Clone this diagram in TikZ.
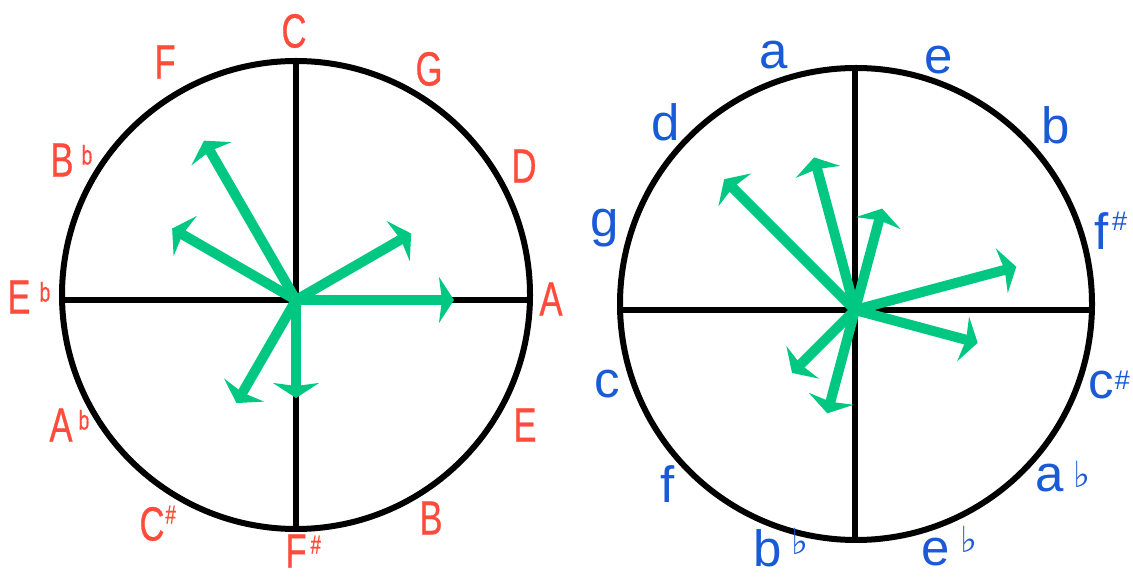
\documentclass[tikz,border=0pt]{standalone}
\usepackage{fontspec}
\setmainfont{Liberation Sans}
\newfontfamily\condfont[FakeStretch=0.72,FakeBold=0.6]{Liberation Sans}
\newfontfamily\symfont{DejaVu Sans}
\usetikzlibrary{arrows.meta,calc}
\definecolor{notered}{RGB}{255,75,60}
\definecolor{keyblue}{RGB}{25,90,215}
\definecolor{vecgreen}{RGB}{0,200,130}
\newcommand\mjflat[1]{\rlap{\hspace{#1}\smash{\raisebox{12pt}{\fontsize{27}{27}\selectfont b}}}}
\newcommand\mjsharp[2]{\rlap{\hspace{#1}\smash{\raisebox{#2}{\fontsize{26}{26}\selectfont\#}}}}
\newcommand\mnflat[2]{\rlap{\hspace{#1}\smash{\raisebox{#2}{\symfont\fontsize{36}{36}\selectfont ♭}}}}
\newcommand\mnsharp[2]{\rlap{\hspace{#1}\smash{\raisebox{#2}{\fontsize{27}{27}\selectfont\#}}}}
\tikzset{
  rim/.style={line width=6pt, draw=black},
  axis/.style={line width=5.5pt, draw=black},
  vec/.style={line width=10pt, draw=vecgreen, -{Stealth[length=15pt,width=46pt,inset=3pt]}},
  maj/.style={text=notered, font=\condfont\fontsize{48}{48}\selectfont, inner sep=0pt},
  mnr/.style={text=keyblue, font=\fontsize{51}{51}\selectfont, inner sep=0pt},
}
\begin{document}
\begin{tikzpicture}[x=1pt,y=1pt]
\useasboundingbox (0,0) rectangle (1133,576);
% ---------- left circle (major) ----------
\coordinate (Lc) at (296,281);
\coordinate (L) at (296,276);
\coordinate (Ln) at (296,515);
\coordinate (Ls) at (296,47);
\coordinate (Lw) at (62,276);
\coordinate (Le) at (530,276);
\draw[rim] (Lc) circle (234);
\draw[axis] (Ln) -- (Ls);
\draw[axis] (Lw) -- (Le);
\coordinate (LvA) at ($(L)+(0:158)$);
\coordinate (LvD) at ($(L)+(30:133)$);
\coordinate (LvF) at ($(L)+(120:184)$);
\coordinate (LvBb) at ($(L)+(150:143)$);
\coordinate (LvFs) at ($(L)+(-90:98)$);
\coordinate (LvCs) at ($(L)+(-120:119)$);
\foreach \t in {LvA,LvD,LvF,LvBb,LvFs,LvCs} \draw[vec] (L) -- (\t);
\node[maj] (lC)  at (294,545) {C};
\node[maj] (lG)  at (429,507) {G};
\node[maj] (lD)  at (524,410) {D};
\node[maj] (lA)  at (551,277) {A};
\node[maj] (lE)  at (525,151) {E};
\node[maj] (lB)  at (431,58)  {B};
\node[maj] (lFs) at (296,25)  {F\mjsharp{4pt}{14pt}};
\node[maj] (lCs) at (152,52)  {C\mjsharp{1pt}{17pt}};
\node[maj] (lAb) at (61,151)  {A\mjflat{6pt}};
\node[maj] (lEb) at (19,279)  {E\mjflat{9pt}};
\node[maj] (lBb) at (62,416)  {B\mjflat{8pt}};
\node[maj] (lF)  at (165,514) {F};
% ---------- right circle (minor) ----------
\coordinate (Rc) at (856,272);
\coordinate (R) at (855,266);
\coordinate (Rn) at (855,507);
\coordinate (Rs) at (855,36);
\coordinate (Rw) at (621,266);
\coordinate (Re) at (1092,266);
\draw[rim] (Rc) circle (236);
\draw[axis] (Rn) -- (Rs);
\draw[axis] (Rw) -- (Re);
\coordinate (Rvd) at ($(R)+(135:185)$);
\coordinate (Rva) at ($(R)+(105:158)$);
\coordinate (Rve) at ($(R)+(75:105)$);
\coordinate (Rvfs) at ($(R)+(15:167)$);
\coordinate (Rvcs) at ($(R)+(-15:127)$);
\coordinate (Rvf) at ($(R)+(-135:89)$);
\coordinate (Rvbb) at ($(R)+(-105:107)$);
\foreach \t in {Rvd,Rva,Rve,Rvfs,Rvcs,Rvf,Rvbb} \draw[vec] (R) -- (\t);
\node[mnr] (ra)  at (774,521)  {a};
\node[mnr] (re)  at (939,516)  {e};
\node[mnr] (rb)  at (1056,451) {b};
\node[mnr] (rfs) at (1102,345) {f\mnsharp{3pt}{19pt}};
\node[mnr] (rcs) at (1101,191) {c\mnsharp{1pt}{9pt}};
\node[mnr] (rab) at (1050,98)  {a\mnflat{9pt}{4pt}};
\node[mnr] (reb) at (936,24)   {e\mnflat{10pt}{13pt}};
\node[mnr] (rbb) at (768,28)   {b\mnflat{9pt}{12pt}};
\node[mnr] (rf)  at (668,92)   {f};
\node[mnr] (rc)  at (607,192)  {c};
\node[mnr] (rg)  at (605,348)  {g};
\node[mnr] (rd)  at (666,454)  {d};
\end{tikzpicture}
\end{document}
